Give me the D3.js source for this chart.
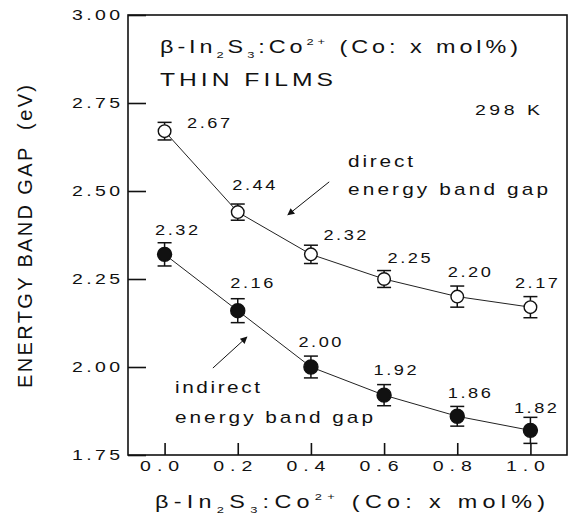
<!DOCTYPE html>
<html>
<head>
<meta charset="utf-8">
<script src="https://cdn.jsdelivr.net/npm/d3@7"></script>
<style>
  body { margin: 0; background: #fff; }
  text { font-family: "Liberation Sans", Arial, sans-serif; fill: #111; white-space: pre; }
</style>
</head>
<body>
<script>
// Co content (mol%)
var coContent = [0.0, 0.2, 0.4, 0.6, 0.8, 1.0];

// direct energy band gap (eV) and error
var directGap = [2.67, 2.44, 2.32, 2.25, 2.20, 2.17];
var directErr = [0.025, 0.023, 0.026, 0.024, 0.030, 0.030];

// indirect energy band gap (eV) and error
var indirectGap = [2.32, 2.16, 2.00, 1.92, 1.86, 1.82];
var indirectErr = [0.033, 0.034, 0.031, 0.030, 0.028, 0.037];

var xTicks = [0.0, 0.2, 0.4, 0.6, 0.8, 1.0];
var yTicks = [1.75, 2.00, 2.25, 2.50, 2.75, 3.00];

// value label placement (pixels, relative to the point)
var directLabelOff = [[44, -3], [16, -22], [34, -14], [25, -16], [12, -20], [6, -19]];
var indirectLabelOff = [[12, -19], [14, -23], [9, -20], [11, -20], [12, -18], [5, -17]];

var w = 569;
var h = 517;
var SX = 1.3; // the scanned figure has horizontally stretched lettering

var x = d3.scaleLinear().domain([-0.1, 1.1]).range([128, 567]);
var y = d3.scaleLinear().domain([1.75, 3.0]).range([455, 15]);

var svg = d3.select("body")
  .append("svg")
  .attr("width", w)
  .attr("height", h);

// stretch text with letter spacing so that its ink spans `width` (local units)
function fit(sel, width) {
  sel.each(function() {
    var n = this.textContent.length;
    this.setAttribute("letter-spacing", 0);
    var L = this.getComputedTextLength();
    this.setAttribute("letter-spacing", Math.max(0, (width - L) / (n - 1)));
  });
}

// horizontal text, left edge / baseline in page pixels, ink width in pixels
function place(sel, left, base, width) {
  sel.attr("x", 0).attr("y", 0)
    .attr("transform", "translate(" + left + "," + base + ") scale(" + SX + ",1)")
    .call(fit, width / SX);
}

// frame
svg.append("rect")
  .attr("x", 128)
  .attr("y", 15)
  .attr("width", 439)
  .attr("height", 440)
  .attr("fill", "none")
  .attr("stroke", "#111")
  .attr("stroke-width", 1.6);

// y-axis
var yAxis = d3.axisLeft(y)
  .tickValues(yTicks)
  .tickFormat(d3.format(".2f"))
  .tickSizeInner(-18)
  .tickSizeOuter(0);

var gy = svg.append("g")
  .attr("transform", "translate(128,0)")
  .call(yAxis);
gy.select(".domain").remove();
gy.selectAll(".tick line").attr("stroke", "#111").attr("stroke-width", 1.6);
gy.selectAll(".tick text")
  .attr("text-anchor", "start")
  .attr("x", -56 / SX)
  .attr("transform", "scale(" + SX + ",1)")
  .attr("font-size", 15)
  .attr("font-family", null)
  .attr("fill", "#111")
  .call(fit, 48 / SX);

// x-axis
var xAxis = d3.axisBottom(x)
  .tickValues(xTicks)
  .tickFormat(d3.format(".1f"))
  .tickSizeInner(-12)
  .tickSizeOuter(0)
  .tickPadding(5);

var gx = svg.append("g")
  .attr("transform", "translate(0,455)")
  .call(xAxis);
gx.select(".domain").remove();
gx.selectAll(".tick line").attr("stroke", "#111").attr("stroke-width", 1.6);
gx.selectAll(".tick text")
  .attr("text-anchor", "start")
  .attr("x", -25 / SX)
  .attr("transform", "scale(" + SX + ",1)")
  .attr("font-size", 15)
  .attr("font-family", null)
  .attr("fill", "#111")
  .call(fit, 39 / SX);

// series
function drawSeries(vals, errs, offs, filled) {
  var pts = coContent.map((c, i) => ({ c: c, v: vals[i], e: errs[i], off: offs[i] }));
  var g = svg.append("g");

  g.append("path")
    .datum(pts)
    .attr("fill", "none")
    .attr("stroke", "#222")
    .attr("stroke-width", 1)
    .attr("d", d3.line().x((d) => x(d.c)).y((d) => y(d.v)));

  var eb = g.selectAll(".err")
    .data(pts)
    .enter()
    .append("g")
    .attr("stroke", "#111")
    .attr("stroke-width", 1.5);
  eb.append("line")
    .attr("x1", (d) => x(d.c)).attr("x2", (d) => x(d.c))
    .attr("y1", (d) => y(d.v + d.e)).attr("y2", (d) => y(d.v - d.e));
  eb.append("line")
    .attr("x1", (d) => x(d.c) - 7).attr("x2", (d) => x(d.c) + 7)
    .attr("y1", (d) => y(d.v + d.e)).attr("y2", (d) => y(d.v + d.e));
  eb.append("line")
    .attr("x1", (d) => x(d.c) - 7).attr("x2", (d) => x(d.c) + 7)
    .attr("y1", (d) => y(d.v - d.e)).attr("y2", (d) => y(d.v - d.e));

  g.selectAll("circle")
    .data(pts)
    .enter()
    .append("circle")
    .attr("cx", (d) => x(d.c))
    .attr("cy", (d) => y(d.v))
    .attr("r", filled ? 7 : 6.3)
    .attr("fill", filled ? "#111" : "#fff")
    .attr("stroke", "#111")
    .attr("stroke-width", 1.4);

  g.selectAll(".val")
    .data(pts)
    .enter()
    .append("text")
    .attr("class", "val")
    .attr("font-size", 14)
    .text((d) => d3.format(".2f")(d.v))
    .each(function(d) {
      d3.select(this).call(place, x(d.c) + d.off[0] - 21.5, y(d.v) + d.off[1], 43);
    });
}

drawSeries(directGap, directErr, directLabelOff, false);
drawSeries(indirectGap, indirectErr, indirectLabelOff, true);

// arrows
svg.append("defs").append("marker")
  .attr("id", "head")
  .attr("viewBox", "0 0 10 10")
  .attr("refX", 9)
  .attr("refY", 5)
  .attr("markerWidth", 9)
  .attr("markerHeight", 7)
  .attr("markerUnits", "userSpaceOnUse")
  .attr("orient", "auto")
  .append("path")
  .attr("d", "M0,0 L10,5 L0,10 Z")
  .attr("fill", "#111");

var arrows = [
  [[0.45, 2.526], [0.337, 2.432]],
  [[0.132, 1.997], [0.225, 2.085]]
];
svg.selectAll(".arrow")
  .data(arrows)
  .enter()
  .append("line")
  .attr("x1", (d) => x(d[0][0]))
  .attr("y1", (d) => y(d[0][1]))
  .attr("x2", (d) => x(d[1][0]))
  .attr("y2", (d) => y(d[1][1]))
  .attr("stroke", "#111")
  .attr("stroke-width", 1)
  .attr("marker-end", "url(#head)");

// plain annotations: [text, left, baseline, size, width]
var notes = [
  ["THIN FILMS", 160, 86, 19, 173],
  ["298 K", 475, 115, 15, 65],
  ["direct", 348, 167, 16, 65],
  ["energy band gap", 348, 195, 16, 200],
  ["indirect", 175, 393, 16, 85],
  ["energy band gap", 175, 423, 16, 198]
];
notes.forEach(function(n) {
  svg.append("text")
    .attr("font-size", n[3])
    .text(n[0])
    .call(place, n[1], n[2], n[4]);
});

// formula text with sub/superscripts
function formula(left, base, size, width) {
  var t = svg.append("text")
    .attr("font-size", size);
  var sub = size * 0.55;
  t.append("tspan").text("β-In");
  t.append("tspan").attr("dy", size * 0.28).attr("font-size", sub).text("2");
  t.append("tspan").attr("dy", -size * 0.28).text("S");
  t.append("tspan").attr("dy", size * 0.28).attr("font-size", sub).text("3");
  t.append("tspan").attr("dy", -size * 0.28).text(":Co");
  t.append("tspan").attr("dy", -size * 0.42).attr("font-size", sub).text("2+");
  t.append("tspan").attr("dy", size * 0.42).text(" (Co: x mol%)");
  t.call(place, left, base, width);
}
formula(160, 53, 18, 358);
formula(155, 508, 18, 390);

// y-axis title
svg.append("text")
  .attr("transform", "translate(32,237) rotate(-90)")
  .attr("text-anchor", "start")
  .attr("x", -151)
  .attr("font-size", 20)
  .text("ENERTGY BAND GAP  (eV)")
  .call(fit, 303);
</script>
</body>
</html>
